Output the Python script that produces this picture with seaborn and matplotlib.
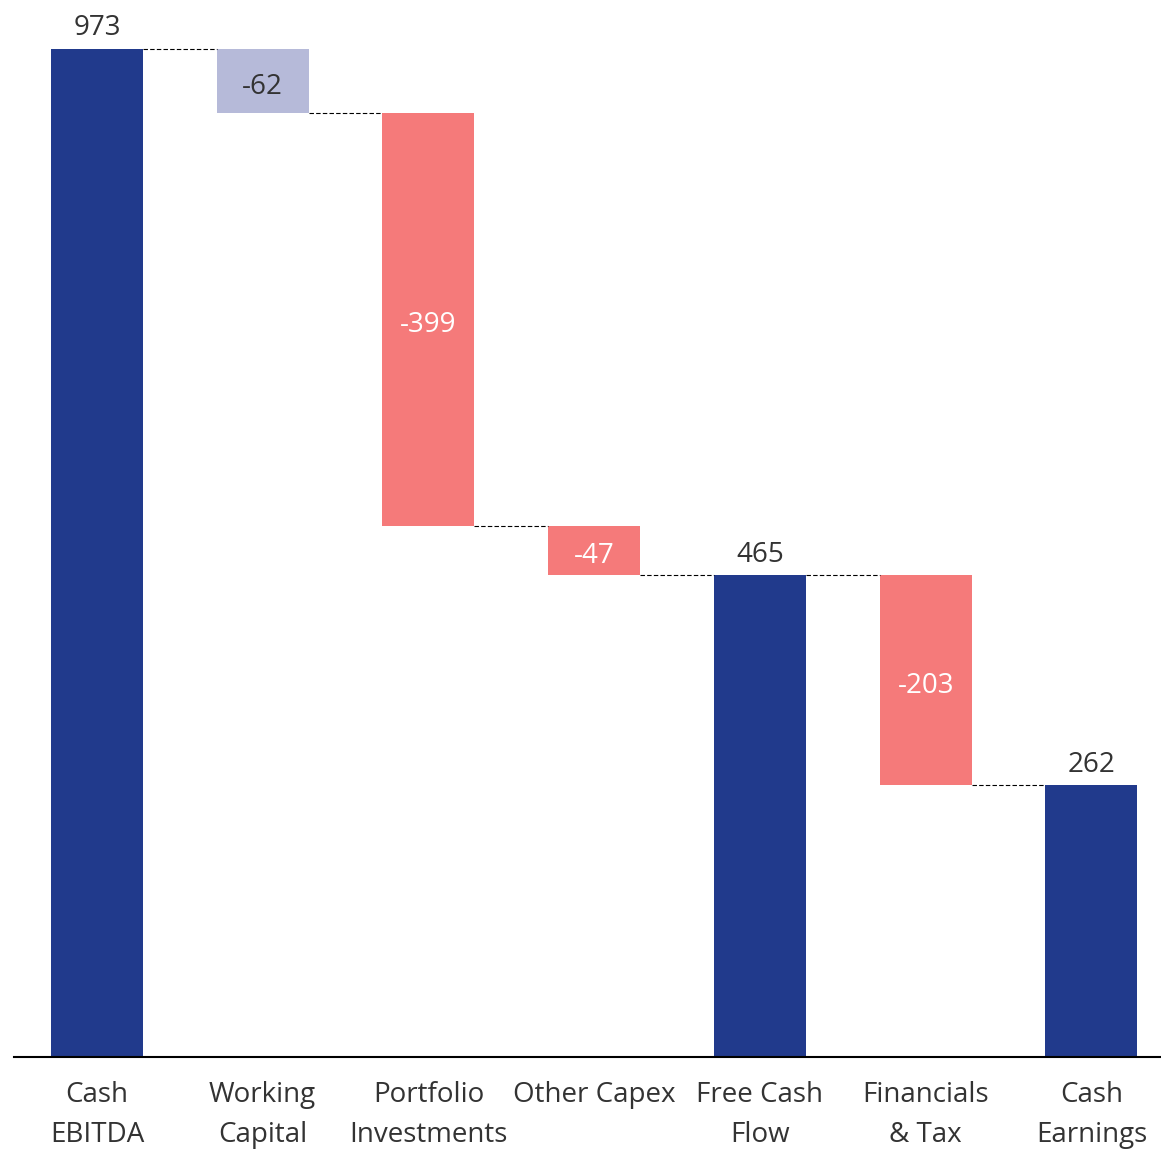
import matplotlib
matplotlib.use("Agg")
import matplotlib.pyplot as plt
import seaborn as sns
import numpy as np
import pandas as pd

categories = ["Cash\nEBITDA", "Working\nCapital", "Portfolio\nInvestments", "Other Capex",
              "Free Cash\nFlow", "Financials\n& Tax", "Cash\nEarnings"]
values = [973, -62, -399, -47, 465, -203, 262]
kinds = ["total", "delta", "delta", "delta", "total", "delta", "total"]
bar_colors = ["#213A8C", "#B6BAD9", "#F57A7A", "#F57A7A", "#213A8C", "#F57A7A", "#213A8C"]
label_colors = ["#333333", "#333333", "#FFFFFF", "#FFFFFF", "#333333", "#FFFFFF", "#333333"]

# waterfall geometry computed from the values
bottoms, heights, levels = [], [], []
running = 0
for v, k in zip(values, kinds):
    if k == "total":
        bottoms.append(0)
        heights.append(v)
        running = v
    else:
        new = running + v
        bottoms.append(min(running, new))
        heights.append(abs(v))
        running = new
    levels.append(running)

df = pd.DataFrame({"cat": categories, "height": heights})

sns.set_theme(style="white")
plt.rcParams["font.family"] = ["Open Sans", "DejaVu Sans"]

fig = plt.figure(figsize=(11.61, 11.51), dpi=100)
ax = fig.add_axes([14 / 1161, (1151 - 1057) / 1151, 1 - 14 / 1161, 1057 / 1151])

sns.barplot(data=df, x="cat", y="height", ax=ax, width=0.555,
            bottom=np.array(bottoms, dtype=float), errorbar=None,
            edgecolor="none", linewidth=0, color="#213A8C")
for p, c in zip(ax.patches, bar_colors):
    p.set_facecolor(c)

half = 0.555 / 2
# connector lines
for i in range(len(values) - 1):
    ax.plot([i + half, i + 1 - half], [levels[i], levels[i]], color="black",
            linewidth=0.8, linestyle=(0, (4, 2)), zorder=1)

# labels
for i, (v, k) in enumerate(zip(values, kinds)):
    if k == "total":
        ax.text(i, heights[i] + 6, f"{v}", ha="center", va="bottom",
                fontsize=20, color=label_colors[i])
    else:
        ax.text(i, bottoms[i] + heights[i] / 2 - 5.5, f"{v}", ha="center", va="center",
                fontsize=20, color=label_colors[i])

ax.set_xlim(-0.5, 6.42)
ax.set_ylim(0, 1020)
ax.set_xlabel("")
ax.set_ylabel("")
ax.set_yticks([])
for s in ["top", "right", "left"]:
    ax.spines[s].set_visible(False)
ax.spines["bottom"].set_color("black")
ax.spines["bottom"].set_linewidth(1.5)
ax.tick_params(axis="x", length=0, pad=17, labelsize=20, labelcolor="#333333")
for t in ax.get_xticklabels():
    t.set_linespacing(1.6)

fig.savefig("out.png", dpi=100)
